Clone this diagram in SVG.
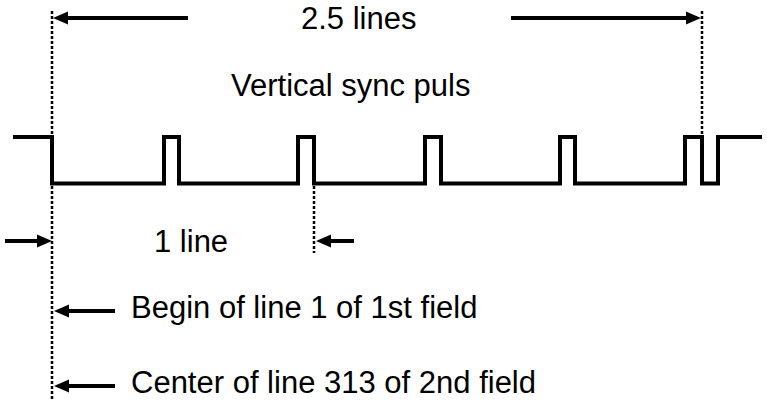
<svg xmlns="http://www.w3.org/2000/svg" width="767" height="401" viewBox="0 0 767 401">
<style>
.t{font-family:"Liberation Sans",Arial,Helvetica,sans-serif;font-size:31px;fill:#000}
.w{fill:none;stroke:#000;stroke-width:4;stroke-linejoin:miter}
.d{fill:none;stroke:#000;stroke-width:2.5;stroke-dasharray:3 2}
.a{fill:none;stroke:#000;stroke-width:4}
</style>
<defs>
<marker id="ah" markerUnits="userSpaceOnUse" markerWidth="16" markerHeight="14" refX="5" refY="7" orient="auto" overflow="visible">
<path d="M0,0.5 L15,7 L0,13.5 z" fill="#000"/>
</marker>
</defs>
<g id="waveform">
<path class="w" d="M13,137 H52 V183.5 H164 V137 H179 V183.5 H298 V137 H314 V183.5 H425 V137 H441 V183.5 H560 V137 H575 V183.5 H685 V137 H702 V183.5 H718 V137 H762"/>
</g>
<g id="guides">
<line class="d" x1="52" y1="11" x2="52" y2="399"/>
<line class="d" x1="702" y1="11" x2="702" y2="136"/>
<line class="d" x1="314" y1="186" x2="314" y2="253"/>
</g>
<g id="connectors">
<line class="a" x1="188" y1="18" x2="63" y2="18" marker-end="url(#ah)"/>
<line class="a" x1="511" y1="18" x2="691" y2="18" marker-end="url(#ah)"/>
<line class="a" x1="5" y1="241" x2="42" y2="241" marker-end="url(#ah)"/>
<line class="a" x1="354" y1="241" x2="326" y2="241" marker-end="url(#ah)"/>
<line class="a" x1="115" y1="311" x2="64" y2="311" marker-end="url(#ah)"/>
<line class="a" x1="115" y1="386" x2="64" y2="386" marker-end="url(#ah)"/>
</g>
<g id="labels">
<text id="lbl-25" class="t" x="301" y="29">2.5 lines</text>
<text id="lbl-vsync" class="t" x="231" y="96">Vertical sync puls</text>
<text id="lbl-1line" class="t" x="154" y="252">1 line</text>
<text id="lbl-begin" class="t" x="131" y="318">Begin of line 1 of 1st field</text>
<text id="lbl-center" class="t" x="131" y="393">Center of line 313 of 2nd field</text>
</g>
</svg>
